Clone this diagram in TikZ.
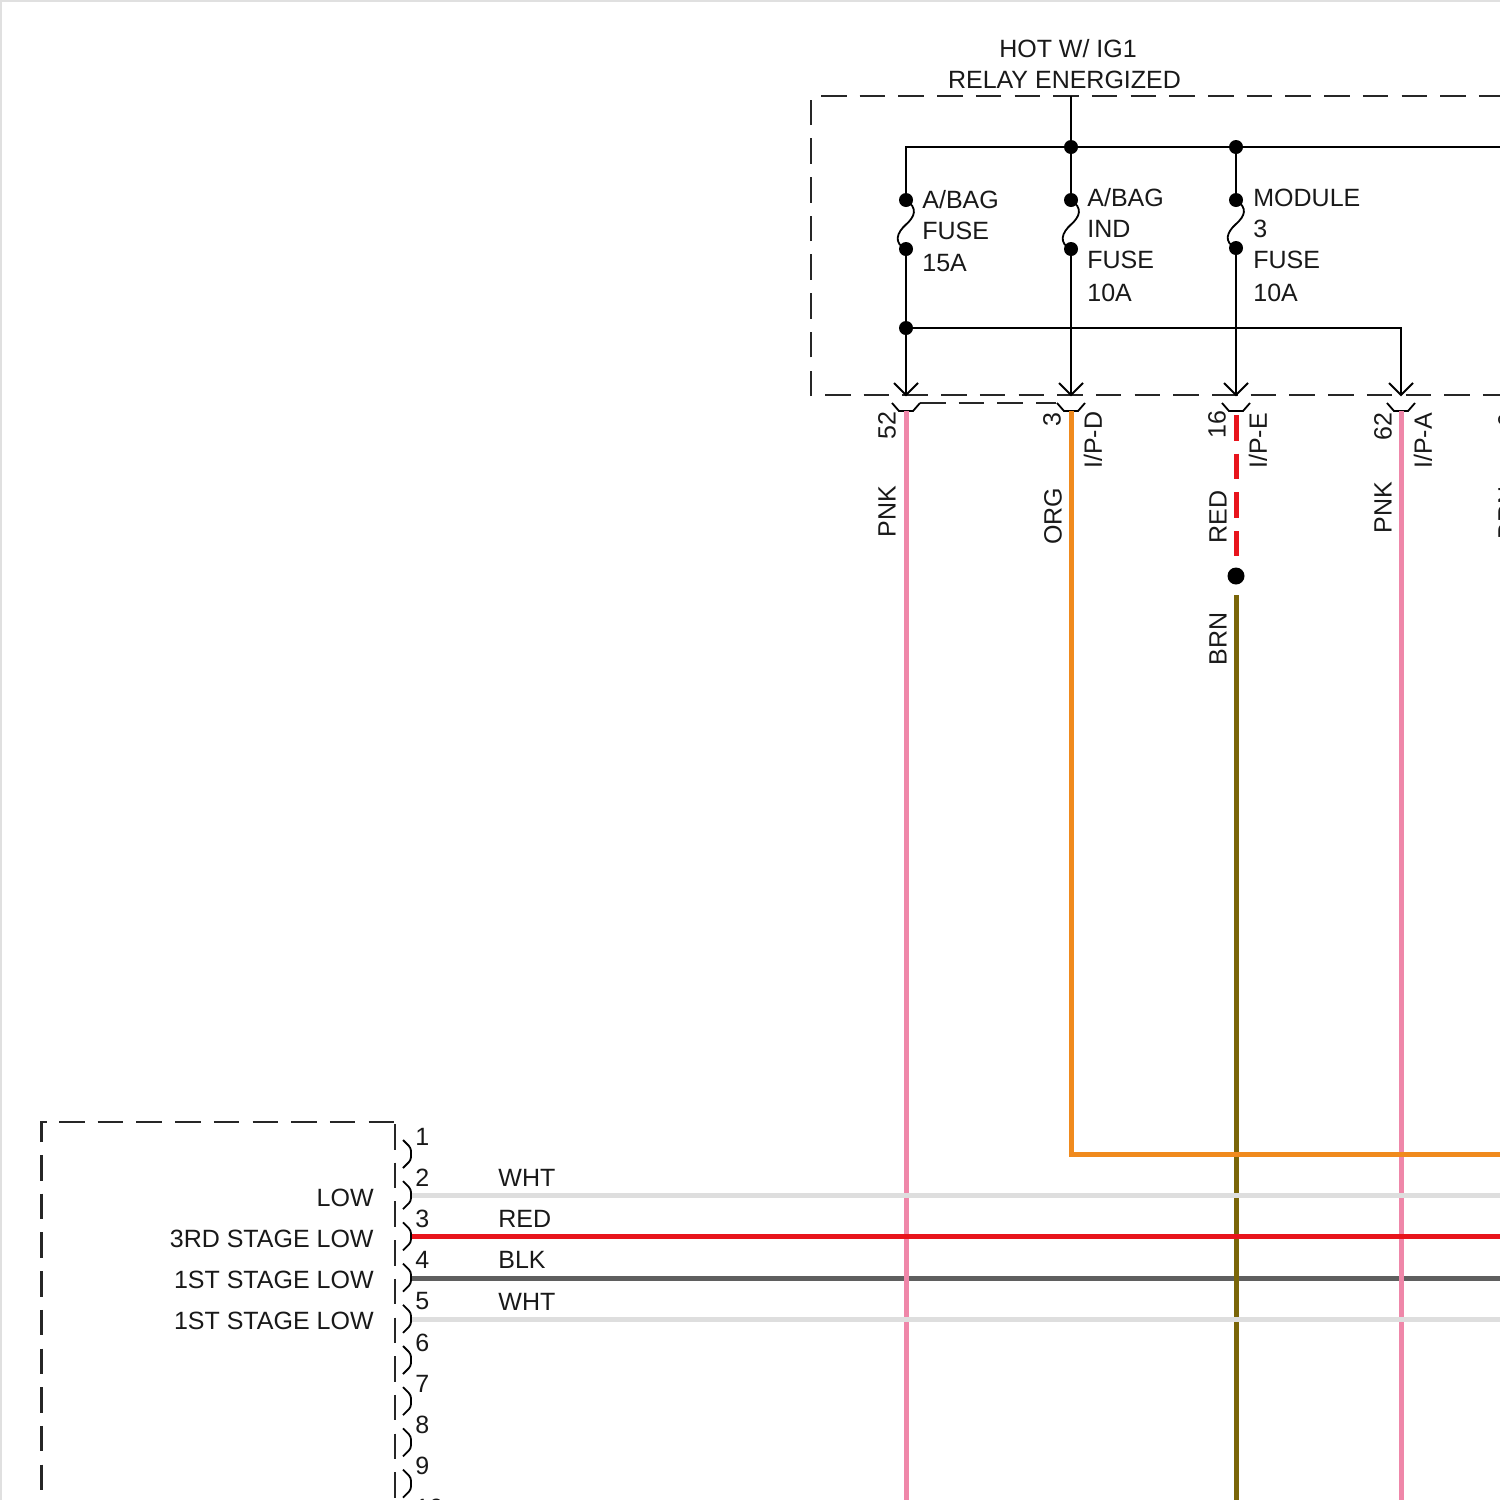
\documentclass[tikz,border=0pt]{standalone}
\usepackage{fontspec}
\usetikzlibrary{calc}
\setmainfont{Liberation Sans}
\definecolor{pnkw}{HTML}{EF87A9}
\definecolor{orgw}{HTML}{F08A1D}
\definecolor{redw}{HTML}{E8141C}
\definecolor{brnw}{HTML}{7A6508}
\definecolor{blkw}{HTML}{5F5F5F}
\definecolor{whtw}{HTML}{DEDEDE}
\tikzset{
 txt/.style={inner sep=0pt,font=\fontsize{12.5}{14}\selectfont,text=black!90},
 rtxt/.style={txt,rotate=90,anchor=west},
 thin line/.style={line width=1.1pt,black},
 boxdash/.style={line width=1.1pt,black!85,dash pattern=on 12.75pt off 6.6pt},
 hook/.style={line width=.9pt,black},
 wire/.style={line width=2.5pt},
 dotn/.style={circle,fill=black,inner sep=0pt,minimum size=7pt},
}
\begin{document}
\begin{tikzpicture}[x=0.5pt,y=-0.5pt]
\useasboundingbox (0,0) rectangle (1500,1500);
\clip (0,0) rectangle (1500,1500);
\fill[white] (0,0) rectangle (1500,1500);
\draw[line width=1pt,black!12] (1,1500) -- (1,1) -- (1500,1);
% coordinates
\coordinate (top) at (1071,96);
\foreach \n/\x in {a/906,b/1071,c/1236,d/1401}{
  \coordinate (\n pin) at (\x,395);
  \coordinate (\n w) at (\x,411);
}
% boxes
\draw[boxdash] (821,96) -- (1500,96);
\draw[boxdash] (811,396) -- (811,99);
\draw[boxdash] (825,395) -- (1500,395);
\draw[line width=1.1pt,black!85] (41.5,1142) -- (41.5,1122) -- (47,1122);
\draw[boxdash] (59,1122) -- (395,1122);
\draw[boxdash] (41.5,1155) -- (41.5,1500);
\draw[boxdash] (395,1124) -- (395,1500);
\draw[line width=.8pt,black!85,dash pattern=on 12.75pt off 6.6pt] (920,403) -- (1056,403);
% bus
\node[dotn] (j1) at (1071,147) {};
\node[dotn] (j2) at (1236,147) {};
\node[dotn] (j3) at (906,328) {};
\node[dotn] (fa1) at (906,200) {};
\node[dotn] (fa2) at (906,249) {};
\node[dotn] (fb1) at (1071,200) {};
\node[dotn] (fb2) at (1071,249) {};
\node[dotn] (fc1) at (1236,200) {};
\node[dotn] (fc2) at (1236,248) {};
\draw[thin line] (top) -- (j1);
\draw[thin line] (fa1.center) -- (906,147) -- (j1.center) -- (j2.center) -- (1500,147);
\draw[thin line] (j1.center) -- (fb1.center);
\draw[thin line] (j2.center) -- (fc1.center);
\draw[thin line] (fa2.center) -- (apin);
\draw[thin line] (fb2.center) -- (bpin);
\draw[thin line] (fc2.center) -- (cpin);
\draw[thin line] (j3.center) -- (1401,328) -- (dpin);
% fuses
\foreach \a/\b in {fa1/fa2,fb1/fb2,fc1/fc2}{
  \draw[line width=.9pt,black] (\a.center) .. controls +(12,8) and +(9,-8) .. ($(\a.center)!.5!(\b.center)$) .. controls +(-9,8) and +(-13,-6) .. (\b.center);
}
% arrow and hook marks
\foreach \n in {a,b,c,d}{
  \draw[hook] ($(\n pin)+(-12,-12)$) -- (\n pin) -- ($(\n pin)+(12,-12)$);
  \draw[hook] ($(\n w)+(-14,-8)$) -- ($(\n w)+(-7,0)$) -- ($(\n w)+(7,0)$) -- ($(\n w)+(14,-8)$);
}
% wires
\coordinate (orgc) at (1071,1154);
\coordinate (redend) at (1236,556);
\node[circle,fill=black,inner sep=0pt,minimum size=8.5pt] (spl) at (1236,576) {};
\coordinate (brnst) at (1236,595);
\draw[wire,blkw] (411,1278) -- (1500,1278);
\draw[wire,brnw] (brnst) -- (1236,1500);
\draw[wire,pnkw] (aw) -- (906,1500);
\draw[wire,pnkw] (dw) -- (1401,1500);
\draw[wire,orgw] (bw) -- (orgc) -- (1500,1154);
\draw[wire,whtw] (411,1195) -- (1500,1195);
\draw[wire,redw] (411,1236) -- (1500,1236);
\draw[wire,whtw] (411,1319) -- (1500,1319);
\draw[wire,redw,dash pattern=on 12.75pt off 6.6pt] (1236,415) -- (redend);
% pins side connector
\foreach \i in {0,...,8}{
  \pgfmathsetmacro{\yy}{1154+41.2*\i}
  \draw[hook,rounded corners=1.5pt] (403,\yy-14) -- (411,\yy-6) -- (411,\yy+6) -- (403,\yy+14);
}
% pin numbers
\foreach \i/\y in {1/1137,2/1178,3/1219,4/1260,5/1301,6/1343,7/1384,8/1425,9/1466,10/1508}{
  \node[txt,anchor=west] (pin\i) at (415,\y) {\i};
}
% wire labels
\node[txt,anchor=west] (l1) at (498,1178) {WHT};
\node[txt,anchor=west] (l2) at (498,1219) {RED};
\node[txt,anchor=west] (l3) at (498,1260) {BLK};
\node[txt,anchor=west] (l4) at (498,1302) {WHT};
\node[txt,anchor=west] (l5) at (498,1510) {GRN};
% module labels
\node[txt,anchor=east] (m1) at (374,1198) {LOW};
\node[txt,anchor=east] (m2) at (374,1239) {3RD STAGE LOW};
\node[txt,anchor=east] (m3) at (374,1280) {1ST STAGE LOW};
\node[txt,anchor=east] (m4) at (374,1321) {1ST STAGE LOW};
% header
\node[txt] (h1) at (1068,49) {HOT W/ IG1};
\node[txt] (h2) at (1064.5,80) {RELAY ENERGIZED};
% fuse labels
\node[txt,anchor=west] at (922,200) {A/BAG};
\node[txt,anchor=west] at (922,231) {FUSE};
\node[txt,anchor=west] at (922,263) {15A};
\node[txt,anchor=west] at (1087,198) {A/BAG};
\node[txt,anchor=west] at (1087,229) {IND};
\node[txt,anchor=west] at (1087,260) {FUSE};
\node[txt,anchor=west] at (1087,293) {10A};
\node[txt,anchor=west] at (1253,198) {MODULE};
\node[txt,anchor=west] at (1253,229) {3};
\node[txt,anchor=west] at (1253,260) {FUSE};
\node[txt,anchor=west] at (1253,293) {10A};
% rotated
\node[rtxt] at (887,440) {52};
\node[rtxt] at (1052,427) {3};
\node[rtxt] at (1217,439) {16};
\node[rtxt] at (1383,441) {62};
\node[rtxt] at (1093,469) {I/P-D};
\node[rtxt] at (1258,469) {I/P-E};
\node[rtxt] at (1423,469) {I/P-A};
\node[rtxt] at (887,538) {PNK};
\node[rtxt] at (1053,545) {ORG};
\node[rtxt] at (1218,544) {RED};
\node[rtxt] at (1383,534) {PNK};
\node[rtxt] at (1218,666) {BRN};
\node[rtxt] at (1507,540) {BRN};
\node[rtxt] at (1507,428) {6};
\end{tikzpicture}
\end{document}
